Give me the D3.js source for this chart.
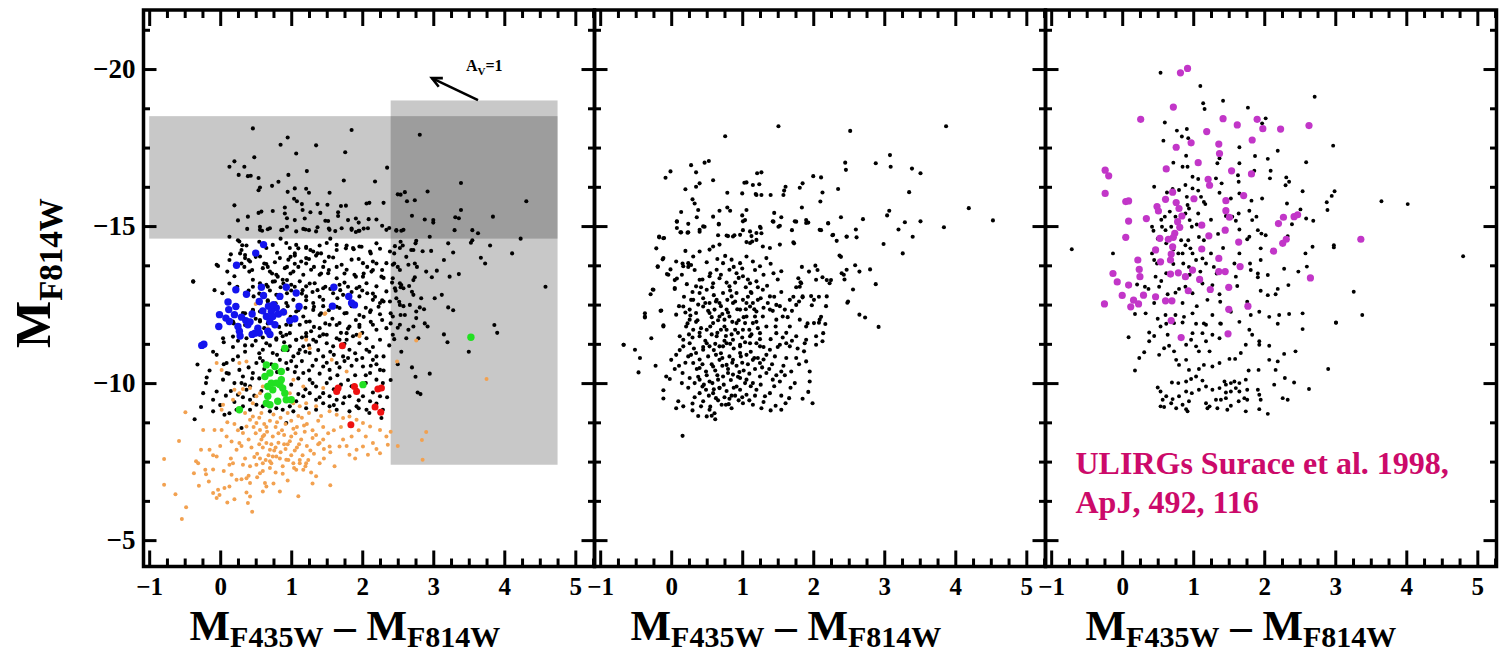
<!DOCTYPE html>
<html><head><meta charset="utf-8">
<script src="https://cdn.jsdelivr.net/npm/d3@7"></script>
<style>
html,body{margin:0;padding:0;background:#fff;}
svg{display:block;}
</style></head><body>
<svg id="chart" width="1501" height="655"></svg>
<script>
// Colour-magnitude diagrams: M_F814W against M_F435W - M_F814W
const xTicks = [-1, 0, 1, 2, 3, 4, 5];
const yTicks = [-20, -15, -10, -5];
const xDomain = [-1.08, 5.27];
const yDomain = [-21.88, -4.16];

// Panel 1: cluster sample (black), faint sources (orange) and highlighted subsets
const p1Black = [
[0.46,-18.11],[1.85,-18.06],[0.95,-17.82],[2.81,-17.91],[0.85,-17.59],[1.35,-17.57],[0.48,-17.19],[1.07,-17.31],[1.76,-17.35],[0.13,-16.89],[0.20,-17.06],[0.34,-16.89],[0.26,-16.63],[0.39,-16.59],[0.43,-16.60],[0.54,-16.53],[0.96,-16.63],[1.22,-16.75],[2.35,-16.86],[2.18,-16.42],[1.74,-16.45],[0.56,-16.23],[0.54,-16.14],[0.73,-16.28],[0.82,-16.41],[0.95,-16.09],[1.05,-16.20],[1.21,-16.19],[1.25,-16.06],[1.54,-16.06],[2.50,-16.01],[2.54,-16.00],[2.60,-16.08],[2.92,-16.10],[3.39,-16.37],[2.74,-15.82],[2.63,-15.79],[2.30,-15.74],[2.06,-15.72],[2.10,-15.74],[0.20,-15.66],[1.04,-15.87],[1.08,-15.79],[1.15,-15.70],[1.37,-15.70],[1.51,-15.68],[1.70,-15.64],[1.77,-15.65],[0.91,-15.59],[1.16,-15.51],[1.27,-15.44],[1.41,-15.42],[1.66,-15.44],[1.66,-15.32],[1.91,-15.24],[2.09,-15.22],[2.20,-15.21],[4.31,-15.79],[3.39,-15.51],[3.31,-15.28],[3.36,-15.25],[2.88,-15.21],[3.00,-15.19],[3.00,-15.11],[2.70,-15.33],[3.84,-15.30],[2.28,-15.01],[2.38,-14.94],[2.48,-14.87],[2.55,-14.85],[0.25,-15.18],[0.39,-15.30],[0.54,-15.42],[0.58,-15.46],[0.74,-15.48],[0.91,-15.40],[0.94,-15.25],[1.05,-15.19],[1.19,-15.24],[1.48,-15.17],[1.52,-15.16],[1.80,-15.19],[1.95,-15.11],[2.02,-14.92],[1.85,-14.92],[1.91,-14.81],[1.95,-14.85],[0.94,-14.98],[0.86,-14.87],[0.67,-14.90],[0.59,-14.85],[0.56,-14.98],[1.20,-14.89],[1.25,-14.87],[1.37,-14.96],[1.53,-14.92],[1.62,-14.84],[0.13,-14.66],[4.23,-14.60],[3.55,-14.87],[3.63,-14.77],[2.95,-14.66],[3.30,-14.87],[3.55,-14.55],[3.53,-14.47],[3.80,-14.38],[4.11,-14.13],[3.73,-13.81],[3.67,-13.99],[3.21,-14.45],[3.28,-14.16],[3.15,-13.92],[2.97,-14.21],[2.85,-14.20],[2.75,-14.45],[2.69,-14.24],[2.62,-14.02],[2.57,-14.38],[2.54,-14.50],[2.46,-14.36],[2.45,-14.13],[2.74,-13.81],[2.77,-13.70],[2.45,-13.81],[2.50,-13.70],[2.53,-13.60],[2.90,-13.55],[3.05,-13.58],[3.23,-13.39],[3.36,-13.47],[2.98,-13.37],[2.74,-13.37],[2.72,-13.28],[2.55,-13.12],[2.54,-13.05],[2.42,-13.20],[2.47,-12.94],[2.66,-13.09],[2.70,-12.91],[2.48,-12.70],[2.52,-12.59],[2.58,-12.45],[2.54,-12.17],[2.40,-12.22],[2.83,-12.70],[2.81,-12.41],[2.87,-12.35],[3.02,-12.70],[3.12,-12.81],[3.21,-12.41],[3.28,-12.32],[4.58,-13.07],[2.88,-11.90],[3.86,-11.85],[2.40,-11.90],[2.50,-11.76],
[-0.38,-13.23],[-0.03,-13.73],[-0.08,-12.96],[0.13,-13.92],[0.25,-14.55],[0.31,-14.39],[0.28,-14.13],[0.35,-14.08],[0.30,-13.81],[0.34,-13.70],[0.40,-13.92],[0.50,-14.02],[0.62,-13.81],[0.67,-13.70],[0.73,-13.49],[0.74,-13.23],[0.81,-13.39],[0.89,-13.17],[0.94,-13.70],[0.99,-14.02],[1.05,-14.13],[1.10,-14.29],[1.21,-14.34],[1.27,-14.24],[1.37,-14.13],[1.42,-14.13],[1.53,-14.02],[1.64,-14.24],[1.77,-14.29],[1.88,-14.26],[1.99,-14.34],[2.12,-14.13],[2.20,-13.81],[2.28,-13.60],[2.07,-13.70],[2.02,-13.49],[1.91,-13.39],[1.75,-13.49],[1.64,-13.70],[1.53,-13.60],[1.42,-13.49],[1.32,-13.70],[1.21,-13.81],[1.10,-13.70],[0.99,-13.49],[0.94,-13.28],[1.05,-13.07],[1.16,-12.96],[1.26,-13.17],[1.37,-12.96],[1.48,-13.07],[1.59,-12.86],[1.69,-12.96],[1.80,-13.07],[1.96,-13.07],[2.07,-12.86],[2.18,-12.75],[2.28,-12.64],[2.23,-12.43],[2.12,-12.32],[2.02,-12.11],[1.91,-12.01],[1.75,-12.22],[1.64,-12.43],[1.53,-12.32],[1.42,-12.22],[1.32,-12.43],[1.21,-12.64],[1.10,-12.32],[0.99,-12.11],[0.89,-12.32],[0.78,-12.54],[0.67,-12.64],[0.56,-12.54],[0.46,-12.32],[0.35,-12.22],[0.24,-12.43],[0.13,-12.32],[0.08,-12.11],[0.19,-11.90],[0.35,-11.85],[0.56,-12.01],[0.67,-11.90],[0.83,-11.79],[0.99,-11.85],[1.21,-11.95],[1.32,-11.79],[1.48,-11.90],[1.64,-11.85],[1.80,-11.74],[1.96,-11.79],[2.12,-11.95],[2.28,-12.01],[0.03,-12.86],[0.13,-13.17],[0.24,-13.07],[0.35,-12.86],[0.46,-13.07],[0.67,-13.07],[0.81,-12.80],[0.94,-12.86],
[0.38,-14.91],[0.56,-14.88],[0.70,-14.93],[0.88,-14.88],[1.07,-14.83],[1.17,-14.91],[1.35,-14.83],[1.54,-14.88],[1.71,-14.93],[1.85,-14.88],[1.96,-14.85],[2.08,-14.93],[2.34,-14.88],[2.48,-14.85],[2.58,-14.88],[0.27,-14.51],[0.37,-14.38],[0.30,-14.24],[0.65,-14.30],[0.74,-14.40],[0.93,-14.46],[0.98,-14.30],[1.07,-14.40],[1.21,-14.30],[1.31,-14.19],[1.40,-14.38],[1.50,-14.46],[1.64,-14.40],[1.78,-14.38],[1.87,-14.30],[1.96,-14.35],[2.11,-14.19],[2.25,-14.28],[2.39,-14.19],[2.53,-14.30],[2.72,-14.24],[2.76,-14.53],[0.35,-13.98],[0.42,-13.87],[0.56,-14.03],[0.65,-13.79],[0.77,-13.85],[0.84,-13.98],[0.96,-13.93],[1.05,-14.06],[1.14,-13.87],[1.21,-13.98],[1.35,-14.06],[1.47,-13.87],[1.59,-14.00],[1.71,-13.77],[1.85,-13.93],[2.01,-13.82],[2.15,-13.87],[2.34,-13.82],[2.43,-13.77],[2.65,-13.77],[-0.38,-13.24],[0.41,-13.55],[0.60,-13.66],[0.70,-13.55],[0.79,-13.45],[0.91,-13.66],[1.03,-13.55],[1.17,-13.45],[1.28,-13.61],[1.40,-13.45],[1.52,-13.50],[1.64,-13.34],[1.78,-13.61],[1.89,-13.45],[2.01,-13.39],[2.13,-13.55],[2.27,-13.39],[2.43,-13.34],[2.53,-13.18],[-0.05,-13.77],[0.46,-13.29],[0.56,-13.18],[0.65,-13.13],[0.77,-13.24],[0.88,-13.29],[1.00,-13.13],[1.12,-13.24],[1.21,-13.08],[1.33,-13.18],[1.45,-13.02],[1.68,-13.13],[1.92,-13.02],[2.06,-13.18],[2.20,-13.08],[2.34,-12.92],[2.46,-13.02],[2.58,-13.02],[2.72,-12.81],[0.47,-12.76],[0.67,-12.60],[0.79,-12.81],[0.93,-12.55],[1.03,-12.65],[1.21,-12.76],[1.31,-12.55],[1.45,-12.65],[1.73,-12.81],[1.96,-12.76],[2.15,-12.65],[2.25,-12.55],[2.39,-12.60],[2.53,-12.49],[2.67,-12.49],[2.76,-12.28],[0.32,-12.23],[0.46,-12.33],[0.56,-12.28],[0.74,-12.17],[1.07,-12.28],[1.17,-12.12],[1.31,-12.33],[1.40,-12.17],[1.68,-12.39],[1.78,-12.23],[1.96,-12.17],[2.11,-12.26],[2.25,-12.19],[2.43,-12.12],[2.60,-12.17],[2.76,-12.07],[0.18,-11.96],[0.37,-11.86],[0.56,-11.96],[0.93,-11.86],[1.12,-11.86],[1.26,-11.96],[1.40,-11.75],[1.54,-11.86],[1.68,-11.91],[1.82,-11.80],[1.96,-11.86],[2.15,-11.86],[2.34,-11.75],[2.53,-11.86],[2.72,-11.80],[0.04,-11.43],[0.18,-11.48],[0.37,-11.43],[0.56,-11.54],[0.79,-11.43],[0.93,-11.54],[1.07,-11.38],[1.21,-11.48],[1.35,-11.32],[1.50,-11.54],[1.64,-11.43],[1.78,-11.38],[1.92,-11.54],[2.06,-11.43],[2.25,-11.38],[2.43,-11.54],[2.62,-11.43],[2.79,-11.43],
[-0.32,-10.59],[-0.19,-10.18],[-0.24,-9.68],[-0.27,-9.24],[-0.36,-8.85],[-0.10,-9.47],[-0.05,-9.73],[0.04,-10.11],[0.09,-10.32],[0.09,-10.64],[0.18,-10.74],[0.20,-10.00],[0.25,-9.63],[0.27,-10.42],[0.32,-10.21],[0.35,-9.95],[0.37,-9.79],[0.42,-9.47],[0.46,-10.32],[0.51,-10.64],[0.56,-10.80],[0.60,-11.06],[0.65,-11.27],[0.70,-11.49],[0.79,-11.38],[0.88,-11.49],[0.98,-11.59],[1.07,-11.38],[1.17,-11.17],[1.26,-10.96],[1.35,-10.74],[1.45,-10.53],[1.54,-10.42],[1.64,-10.64],[1.73,-10.85],[1.82,-11.06],[1.92,-10.74],[2.01,-10.53],[2.11,-10.32],[2.20,-10.11],[2.29,-10.00],[2.25,-10.42],[2.15,-10.74],[2.06,-11.06],[1.96,-11.27],[1.87,-11.49],[1.78,-11.59],[1.68,-11.38],[1.59,-11.17],[1.50,-11.27],[1.40,-11.49],[1.31,-11.38],[1.21,-11.59],[1.12,-11.06],[1.03,-10.85],[0.93,-10.64],[0.84,-10.74],[0.74,-10.96],[0.88,-11.06],[0.98,-11.17],[1.07,-10.53],[1.17,-10.32],[1.26,-10.11],[1.35,-9.89],[1.45,-9.68],[1.54,-9.58],[1.64,-9.47],[1.73,-9.36],[1.82,-9.58],[1.92,-9.79],[2.01,-9.58],[2.11,-9.42],[2.25,-9.58],[2.29,-9.15],[2.27,-8.89],[2.06,-9.15],[1.92,-9.26],[1.82,-9.10],[1.64,-9.15],[1.54,-9.26],[1.45,-9.36],[1.35,-9.47],[1.26,-9.68],[1.17,-9.58],[1.07,-9.42],[0.98,-9.26],[0.88,-9.15],[0.79,-9.20],[0.70,-9.10],[0.60,-9.26],[0.51,-9.31],[0.42,-9.15],[0.32,-9.26],[0.23,-9.15],[0.13,-9.04],[0.06,-8.99],[0.30,-8.57],[0.93,-8.73],[1.03,-9.10],[1.21,-9.20],[1.35,-9.15],
[2.45,-11.40],[2.55,-11.00],[2.50,-10.60],[2.70,-10.50],[2.75,-10.20],[2.95,-10.30],[2.78,-9.70],[2.82,-9.65],[3.20,-11.30],[3.50,-11.00],[2.65,-11.70],[2.92,-11.80],[3.90,-11.60],[3.15,-11.55],[2.40,-10.10],
[0.45,-11.20],[0.55,-10.95],[0.62,-10.45],[0.72,-10.60],[0.80,-10.90],[0.90,-11.30],[1.00,-10.70],[1.10,-10.95],[1.15,-10.70],[1.20,-11.00],[1.30,-10.55],[1.38,-11.05],[1.45,-10.85],[1.50,-10.65],[1.60,-10.90],[1.68,-10.50],[1.75,-10.70],[1.85,-10.55],[1.90,-10.95],[2.00,-10.80],[2.05,-10.25],[2.12,-10.55],[2.20,-10.85],[2.30,-10.40],[1.90,-10.25],[1.80,-10.10],[1.70,-9.95],[1.55,-10.15],[1.40,-10.30],[1.30,-10.00],[1.20,-9.80],[1.10,-10.15],[1.00,-9.95],[0.95,-10.45],[0.55,-10.15],[0.48,-9.60],[0.42,-9.90],[0.32,-9.55],[0.20,-9.40],[0.15,-9.75],[0.08,-9.60],[0.12,-10.30],[0.25,-10.85],[0.35,-11.00],[0.18,-11.15],[0.05,-11.30],[-0.05,-10.90],[-0.15,-10.40],[-0.10,-9.10],[0.00,-9.30],[1.60,-9.30],[1.75,-9.55],[1.95,-9.20],[2.10,-9.05],[2.15,-9.70],[2.35,-9.55],[2.30,-10.85],[2.38,-11.20],[1.15,-11.45],[1.45,-11.55],[1.75,-11.25],[2.00,-11.60],[2.15,-11.15],[0.85,-11.60],[0.60,-11.45],
[0.40,-12.95],[0.55,-12.85],[0.70,-12.95],[0.85,-13.05],[1.00,-12.95],[1.15,-12.85],[1.30,-12.90],[1.40,-12.75],[1.55,-13.00],[1.65,-12.70],[1.85,-12.90],[2.00,-12.95],[2.15,-12.85],[0.50,-12.05],[0.62,-11.75],[0.95,-12.45],[1.05,-12.00],[1.20,-12.40],[1.28,-11.65],[1.45,-12.45],[1.58,-12.05],[1.70,-11.60],[1.85,-12.45],[2.05,-12.40],[2.20,-11.70],[0.35,-11.20],[0.50,-11.35],[0.70,-11.20],[0.95,-11.05],[1.25,-11.20],[1.55,-11.00],[1.80,-10.80],[2.10,-11.00],[0.40,-10.50],[0.60,-10.70],[0.80,-10.35],[1.05,-10.35],[1.25,-10.40],[1.50,-10.00],[1.65,-10.25],[1.85,-9.90],[2.05,-10.00],[2.20,-9.35],[0.30,-10.00],[0.45,-10.15],[0.58,-9.75],[1.10,-9.65],[1.40,-9.55],[1.60,-9.80],[1.95,-9.45],[2.20,-10.60],[0.25,-11.35],[0.05,-10.60],[-0.10,-11.00],[-0.20,-10.00],[2.30,-12.60],[2.30,-13.35],[2.15,-13.60],[1.95,-13.95],[1.75,-13.20],[1.45,-13.70],[1.25,-13.95],[1.05,-13.80],[0.80,-14.15],[0.55,-14.50],[0.45,-13.60],[0.20,-13.40],[0.10,-13.55],[2.20,-14.45],[1.55,-14.60],[0.85,-14.60],[0.15,-14.10]
];

const p1Orange = [
[-0.49,-9.07],[-0.58,-8.16],[-0.79,-7.58],[-0.79,-6.76],[-0.63,-6.46],[-0.48,-6.05],[-0.54,-5.67],[-0.31,-7.45],[-0.30,-6.73],[-0.37,-7.13],[-0.21,-7.24],[-0.16,-6.87],[-0.10,-6.50],[-0.05,-6.34],[-0.01,-6.44],[-0.03,-6.60],[0.06,-6.66],[0.13,-6.71],[0.16,-7.08],[0.23,-6.92],[0.30,-6.94],[0.37,-6.97],[0.42,-6.82],[0.37,-6.52],[0.42,-6.39],[0.39,-6.18],[0.56,-7.13],[0.63,-6.82],[0.65,-6.71],[0.84,-6.55],[0.88,-7.11],[1.07,-7.24],[1.17,-7.24],[1.35,-7.03],[1.61,-7.35],[1.82,-7.72],[2.01,-7.98],[2.25,-7.77],[2.36,-8.04],[2.08,-7.72],[1.92,-7.88],[1.73,-8.20],[1.68,-7.98],[1.54,-7.98],[1.45,-8.20],[1.40,-8.09],[1.40,-7.45],[1.21,-7.45],[1.03,-7.45],[0.93,-7.56],[0.79,-7.66],[0.70,-7.51],[0.60,-7.45],[0.51,-7.40],[0.42,-7.35],[0.32,-7.40],[0.18,-7.45],[0.13,-7.40],[-0.05,-7.66],[-0.15,-7.88],[-0.27,-7.88],[-0.34,-7.51],[-0.24,-8.51],[-0.08,-8.51],[0.02,-8.51],[0.09,-8.30],[0.16,-8.14],[0.23,-7.88],[0.27,-8.09],[0.32,-8.41],[0.37,-8.62],[0.42,-8.83],[0.46,-8.94],[0.51,-8.73],[0.56,-8.51],[0.60,-8.30],[0.65,-8.09],[0.70,-7.88],[0.74,-7.66],[0.02,-9.15],[0.04,-9.31],[0.18,-9.47],[0.27,-9.68],[0.20,-9.79],[0.32,-9.81],[0.42,-9.84],[0.46,-9.36],[0.51,-9.58],[0.56,-9.68],[0.60,-9.89],[0.98,-9.68],[1.03,-9.36],[1.12,-9.26],[1.21,-9.36],[1.35,-9.26],[1.54,-9.10],[1.64,-8.99],[1.73,-8.89],[1.82,-8.94],[1.92,-8.83],[2.01,-8.73],[2.11,-8.62],[2.25,-8.51],[2.34,-8.30],[2.15,-8.09],[-0.05,-10.64],[0.02,-10.42],[0.27,-10.64],[0.37,-10.69],[1.21,-11.38],[1.26,-11.11],[1.03,-10.11],[1.17,-9.89],[1.45,-9.84],[1.78,-10.37],[1.96,-11.49],[1.57,-10.74],
[0.55,-8.90],[0.62,-8.70],[0.70,-8.80],[0.78,-8.60],[0.85,-8.90],[0.92,-8.70],[1.00,-8.80],[1.08,-8.60],[1.15,-8.90],[1.22,-8.70],[1.30,-8.50],[1.38,-8.80],[1.45,-8.60],[1.52,-8.40],[0.50,-8.40],[0.58,-8.20],[0.66,-8.45],[0.74,-8.30],[0.82,-8.10],[0.90,-8.35],[0.98,-8.15],[1.06,-8.40],[1.14,-8.20],[1.22,-8.00],[1.30,-8.25],[1.38,-8.05],[1.46,-7.90],[0.44,-7.95],[0.52,-7.75],[0.60,-7.95],[0.68,-7.70],[0.76,-7.85],[0.84,-7.60],[0.92,-7.90],[1.00,-7.70],[1.08,-7.95],[1.16,-7.70],[1.24,-7.55],[1.32,-7.75],[0.40,-8.20],[0.47,-8.60],[0.87,-8.50],[0.95,-8.05],[1.03,-8.55],[1.11,-8.05],[1.19,-8.45],[1.27,-7.85],[0.72,-8.05],[0.80,-8.75],[0.64,-7.55],[0.56,-7.60],[0.48,-7.65],[0.88,-7.35],[0.96,-7.55],[1.04,-7.30],[1.12,-7.55],[1.20,-7.35],[1.28,-7.15],[0.70,-7.30],[0.60,-7.20],[0.78,-7.15],[1.46,-7.60],[1.55,-7.80],[1.60,-8.50],[1.70,-8.60],[1.85,-8.30],[1.95,-8.50],[2.05,-8.30],[1.78,-8.00],[1.90,-7.60],[2.20,-7.90],[2.40,-8.45],[2.50,-8.00],[0.30,-8.00],[0.25,-8.50],[0.20,-8.70],[0.10,-8.75],[0.00,-8.00],[-0.10,-7.70],[0.15,-7.60],[0.05,-7.20],[-0.20,-7.10],[0.35,-7.60],[0.95,-6.90],[1.30,-6.80],[0.60,-6.55],[0.75,-6.80],[0.20,-6.30],[0.45,-5.90],[0.10,-6.20],[-0.10,-7.25],[1.55,-6.75],[1.10,-6.40],
[0.58,-9.05],[0.75,-9.00],[0.95,-9.05],[1.10,-8.95],[1.25,-9.05],[1.42,-8.95],[0.35,-9.05],[0.65,-8.60],[0.82,-8.40],[1.00,-8.30],[1.18,-8.65],[1.35,-8.35],[0.55,-8.05],[0.78,-7.95],[1.05,-7.85],[0.85,-7.80],[0.62,-8.35],[0.90,-8.05],[1.12,-7.45],[0.72,-7.45],[0.40,-7.05],[0.52,-7.00],
[2.76,-11.36],[2.49,-10.69],[3.75,-10.13],[2.90,-8.44],[2.84,-8.19],[2.85,-7.56],
[0.13,-12.62],[0.50,-12.52],[0.92,-12.23],[0.11,-11.96],[1.47,-12.20],[1.97,-11.56],[0.67,-11.75],[1.48,-12.22]
];

const p1Blue = [
[0.61,-14.41],[0.50,-14.14],[0.23,-13.75],[0.22,-12.97],[0.37,-12.83],[0.58,-13.05],[0.61,-12.79],[0.84,-12.76],[0.93,-13.05],[1.07,-12.87],[1.11,-12.44],[1.05,-12.05],[0.98,-11.99],[0.89,-12.26],[0.79,-12.39],[0.72,-12.28],[0.65,-12.12],[0.70,-11.96],[0.74,-12.12],[0.77,-11.86],[0.67,-11.65],[0.53,-11.75],[0.49,-11.59],[0.39,-11.86],[0.36,-11.99],[0.27,-11.65],[0.25,-11.80],[0.11,-12.58],[0.12,-12.34],[0.22,-12.44],[0.20,-12.18],[-0.01,-12.18],[-0.02,-11.80],[0.08,-12.07],[0.13,-11.96],[1.60,-13.05],[1.58,-12.45],[1.81,-12.76],[1.85,-12.55],[1.89,-12.49],[-0.23,-11.24],[-0.26,-11.20],[0.68,-12.45],[0.75,-12.50],[0.82,-12.20],[0.60,-12.30],[0.55,-12.60],[0.45,-12.20],[0.42,-11.95],[0.30,-12.10],[0.45,-11.55],[0.55,-11.60],[0.70,-11.55],[0.28,-11.50]
];

const p1Green = [
[0.91,-11.11],[0.65,-10.58],[0.77,-10.53],[0.70,-10.32],[0.86,-10.37],[0.63,-10.21],[0.72,-10.00],[0.79,-10.00],[0.84,-9.95],[0.88,-9.84],[0.74,-9.79],[0.67,-9.58],[0.65,-9.36],[0.70,-9.31],[0.91,-9.68],[0.93,-9.47],[0.81,-9.42],[1.00,-9.47],[2.01,-9.95],[0.27,-9.15],[0.67,-9.89],[0.86,-10.11],[3.53,-11.46]
];

const p1Red = [
[1.72,-11.19],[1.66,-9.84],[1.64,-9.73],[1.89,-9.89],[1.92,-9.73],[2.22,-9.81],[2.27,-9.84],[2.18,-9.24],[2.26,-9.07],[1.84,-8.67]
];

// Shaded selection regions and the A_V = 1 reddening vector (panel 1)
const shadeX0 = [-1.00, 2.40];
const shadeX1 = [4.75, 4.75];
const shadeY0 = [-18.50, -19.00];
const shadeY1 = [-14.60, -7.40];
const avTail = [3.63, -19.01];
const avHead = [2.98, -19.71];

// Panel 2: comparison sample
const p2Black = [
[1.51,-18.18],[0.76,-17.86],[2.52,-18.03],[3.87,-18.18],[0.28,-16.94],[0.35,-16.71],[0.47,-17.02],[0.53,-17.07],[-0.01,-16.74],[-0.08,-16.54],[0.59,-16.46],[0.40,-16.36],[0.35,-16.25],[0.20,-16.17],[1.03,-16.38],[1.06,-16.39],[1.15,-16.31],[1.21,-16.68],[1.27,-16.71],[1.24,-16.33],[0.79,-16.06],[1.00,-16.04],[1.19,-16.02],[1.27,-15.99],[1.40,-15.99],[1.59,-16.13],[1.61,-16.25],[1.58,-15.99],[1.81,-16.22],[1.85,-16.36],[2.00,-16.59],[2.11,-16.55],[2.13,-16.07],[2.35,-16.18],[2.45,-17.02],[2.46,-16.79],[2.88,-17.00],[3.08,-17.26],[3.09,-16.89],[3.39,-16.83],[3.51,-16.68],[3.35,-16.08],[4.19,-15.57],[4.53,-15.18],[3.84,-14.96],[0.30,-15.85],[0.33,-15.72],[0.14,-15.45],[0.38,-15.51],[0.36,-15.28],[0.59,-15.30],[0.68,-15.49],[0.79,-15.59],[0.83,-15.49],[0.08,-15.14],[0.13,-14.80],[0.23,-14.79],[0.47,-14.98],[0.40,-14.82],[0.67,-15.05],[0.66,-14.71],[0.80,-14.68],[0.89,-14.71],[1.01,-14.87],[1.04,-15.19],[1.00,-15.34],[1.06,-15.51],[1.20,-15.99],[1.25,-14.98],[1.27,-14.77],[1.13,-14.68],[1.14,-14.51],[1.06,-14.49],[1.44,-15.14],[1.51,-14.98],[1.45,-15.42],[1.55,-15.28],[1.70,-14.87],[1.73,-14.45],[1.76,-15.14],[1.84,-15.59],[1.90,-15.19],[1.93,-15.11],[2.10,-15.78],[2.11,-14.87],[2.21,-15.08],[2.27,-14.71],[2.33,-14.53],[2.39,-15.28],[2.47,-14.66],[2.39,-14.02],[2.60,-14.89],[2.61,-14.64],[2.70,-15.22],[2.59,-13.75],[2.65,-13.55],[2.80,-13.62],[2.88,-13.15],[2.99,-14.43],[3.04,-15.34],[3.07,-15.49],[3.20,-14.89],[3.26,-14.13],[3.29,-15.12],[3.40,-14.66],[3.51,-15.15],[2.43,-13.45],[2.44,-13.30],[2.48,-12.56],[2.56,-12.98],[2.65,-12.18],[2.73,-12.09],[2.92,-11.79],[2.19,-13.28],[2.13,-13.37],[2.25,-13.28],[2.06,-13.60],[1.94,-13.55],[1.84,-13.70],[2.03,-13.74],[1.82,-13.21],[1.81,-13.07],[1.76,-13.05],[1.85,-12.73],[1.97,-12.77],[2.08,-12.75],[2.18,-12.45],[2.11,-12.11],[2.17,-11.88],[2.08,-11.92],[1.92,-11.90],[1.98,-12.48],
[-0.12,-13.94],[-0.19,-13.70],[-0.06,-13.47],[-0.01,-13.62],[0.08,-13.33],[0.05,-13.00],[-0.26,-12.98],[-0.29,-12.83],[-0.15,-12.30],[-0.37,-12.22],[-0.37,-12.09],[-0.21,-14.29],[-0.17,-14.64],[-0.11,-14.61],[0.08,-14.94],[0.20,-14.21],[0.24,-13.70],[0.28,-13.76],[0.16,-13.81],[0.05,-13.28],[0.11,-12.45],[0.07,-12.18],[-0.11,-11.84],
[0.08,-15.15],[0.24,-15.07],[0.14,-14.80],[0.24,-14.80],[0.40,-14.88],[0.45,-14.99],[0.67,-15.07],[1.01,-15.15],[1.11,-14.83],[1.20,-14.78],[1.26,-14.94],[1.43,-15.15],[1.53,-15.01],[1.74,-15.15],[1.90,-15.10],[2.21,-15.10],[2.09,-14.88],[2.28,-14.72],[2.47,-14.67],[2.37,-14.06],[1.72,-14.48],[1.53,-14.41],[1.39,-14.30],[1.29,-14.35],[1.20,-14.56],[1.11,-14.46],[0.97,-14.72],[0.87,-14.67],[0.78,-14.70],[0.68,-14.41],[0.59,-14.35],[0.54,-14.25],[0.40,-14.19],[0.31,-14.03],[0.24,-13.82],[0.17,-13.72],[0.07,-13.87],[-0.11,-13.98],[-0.17,-14.67],[-0.10,-14.62],[-0.19,-13.72],[-0.04,-13.45],[0.05,-13.03],[-0.25,-12.97],[-0.14,-12.31],[-0.37,-12.12],[-0.67,-11.22],[-0.28,-11.43],[-0.11,-11.80],[0.17,-12.44],[0.26,-12.02],[0.12,-11.49],[0.35,-13.08],[0.40,-13.29],[0.54,-13.40],[0.64,-13.61],[0.73,-13.82],[0.85,-13.93],[0.97,-13.82],[1.06,-14.03],[1.15,-13.87],[1.25,-13.72],[1.34,-13.98],[1.44,-13.50],[1.55,-13.56],[1.79,-13.34],[1.83,-13.18],[2.04,-13.29],[2.23,-13.18],[2.40,-13.50],[2.49,-12.60],[2.47,-13.61],[2.19,-12.76],[2.01,-12.65],[1.85,-12.76],[1.76,-12.49],[1.67,-12.65],[1.60,-12.34],[1.48,-12.49],[1.39,-12.76],[1.29,-12.97],[1.20,-13.24],[1.11,-13.18],[1.01,-13.40],[0.92,-13.50],[0.82,-13.61],[0.68,-13.34],[0.59,-13.18],[0.50,-12.97],[0.40,-12.87],[0.31,-12.65],[0.26,-12.34],[0.35,-12.23],[0.45,-12.44],[0.54,-12.55],[0.64,-12.65],[0.73,-12.87],[0.82,-13.08],[0.92,-12.87],[1.01,-12.65],[1.11,-12.44],[1.20,-12.28],[1.29,-12.12],[1.39,-12.34],[1.48,-12.02],[1.57,-12.12],[1.67,-11.80],[1.81,-12.02],[1.90,-11.80],[2.01,-11.91],[2.09,-12.02],[2.14,-11.59],[2.04,-11.49],[1.90,-11.38],[1.76,-11.49],[1.62,-11.27],[1.48,-11.59],[1.34,-11.80],[1.25,-11.59],[1.15,-11.91],[1.06,-12.12],[0.97,-12.34],[0.87,-12.55],[0.78,-12.34],[0.68,-12.12],[0.59,-11.91],[0.50,-11.70],[0.40,-11.49],[0.31,-11.70],[0.21,-11.80],[0.17,-11.38],[0.26,-11.27],[0.50,-11.27],[0.64,-11.49],[0.78,-11.70],[0.92,-11.91],[1.01,-11.70],[1.11,-11.49],[1.20,-11.27],[0.87,-11.38],[0.97,-11.17],[0.73,-11.17],[1.06,-12.55],[0.68,-12.55],[0.54,-12.23],[0.82,-12.12],[0.85,-12.76],[1.13,-12.87],[1.22,-12.65],[0.61,-12.34],[0.75,-12.02],[0.90,-11.70],[1.04,-11.91],[1.18,-12.12],
[0.16,-8.32],[0.50,-8.94],[0.57,-8.96],[0.07,-9.20],[0.17,-9.26],[0.30,-9.13],[0.42,-9.26],[0.54,-9.15],[0.77,-9.31],[0.81,-9.33],[1.40,-9.13],[1.47,-9.28],[1.55,-9.15],[1.61,-9.36],[1.66,-9.52],[1.99,-9.36],[1.93,-9.72],[1.95,-10.05],[1.95,-10.37],[1.90,-10.69],[1.87,-11.01],[-0.11,-9.77],[-0.11,-9.51],[-0.22,-10.55],[-0.46,-10.34],[-0.44,-10.80],[-0.51,-11.06],[-0.67,-11.22],[0.10,-9.42],[-0.07,-10.21],[-0.02,-10.13],[0.11,-10.55],[0.16,-10.32],[1.15,-9.31],[1.32,-9.58],[1.39,-9.68],[1.20,-9.79],[1.06,-9.63],[0.97,-9.79],[0.92,-9.89],[0.85,-9.60],[0.75,-9.55],[0.63,-9.52],[0.59,-9.68],[0.49,-9.79],[0.44,-9.89],[0.54,-10.05],[0.66,-10.11],[0.73,-10.21],[0.80,-10.32],[0.87,-10.27],[0.97,-10.16],[1.06,-10.11],[1.15,-10.00],[1.25,-10.21],[1.34,-10.32],[1.43,-10.11],[1.53,-10.05],[1.74,-10.00],[1.69,-10.37],[1.55,-10.37],[1.62,-10.80],[1.76,-10.80],[1.46,-10.85],[1.34,-10.90],[1.25,-10.64],[1.15,-10.74],[1.06,-10.90],[0.97,-10.96],[0.87,-10.74],[0.78,-10.58],[0.68,-10.74],[0.59,-10.53],[0.49,-10.37],[0.40,-10.48],[0.31,-10.64],[0.24,-10.85],[0.35,-10.96],[0.45,-11.06],[0.17,-11.17],[0.07,-10.90],[0.00,-10.74],[0.54,-11.17],[0.68,-11.17],[0.78,-11.27],[0.97,-11.22],[1.11,-11.27],[1.25,-11.17],[1.39,-11.06],[1.53,-11.22],[1.67,-11.17],[1.88,-11.27],[2.04,-11.22],[2.13,-11.33],[0.63,-10.90],[0.26,-10.16],[0.33,-10.00],[0.40,-10.11],[0.40,-9.68],[0.68,-9.84],[1.01,-9.36],[0.45,-9.42],[0.71,-9.31],[0.61,-9.04],
[0.30,-12.90],[0.38,-12.50],[0.45,-12.70],[0.52,-12.30],[0.60,-12.80],[0.66,-12.00],[0.70,-12.45],[0.75,-11.80],[0.80,-12.25],[0.85,-11.55],[0.90,-12.60],[0.95,-12.00],[1.00,-11.45],[1.05,-12.35],[1.10,-11.70],[1.15,-12.55],[1.20,-11.95],[1.25,-11.40],[1.30,-12.40],[0.35,-11.95],[0.40,-11.60],[0.45,-11.15],[0.55,-11.80],[0.60,-11.05],[0.65,-11.60],[0.70,-10.95],[0.75,-11.35],[0.82,-10.85],[0.88,-11.10],[0.92,-10.55],[0.98,-10.85],[1.02,-10.40],[1.08,-10.60],[1.12,-11.00],[1.18,-10.45],[1.22,-10.80],[1.28,-10.50],[0.50,-10.25],[0.58,-10.00],[0.62,-10.40],[0.68,-9.85],[0.72,-10.55],[0.78,-9.75],[0.84,-10.10],[0.90,-9.60],[0.96,-10.35],[1.00,-9.55],[1.04,-10.00],[1.10,-9.45],[0.40,-10.75],[0.32,-11.10],[0.25,-11.55],[0.20,-12.25],[0.28,-12.65],[0.42,-13.05],[0.55,-13.50],[0.65,-13.95],[0.78,-13.20],[0.88,-13.70],[0.95,-13.35],[1.05,-13.05],[1.12,-12.90],[1.18,-13.60],[1.35,-13.10],[1.45,-12.75],[1.55,-12.90],[1.62,-11.60],[1.70,-12.30],[1.80,-12.60],[1.50,-11.15],[1.42,-10.60],[1.60,-10.25],[1.68,-9.85],[1.80,-10.60],[1.85,-9.50],[1.78,-11.10],
[0.15,-13.45],[0.22,-13.15],[0.33,-13.60],[0.44,-13.30],[0.50,-13.85],[0.58,-13.05],[0.70,-13.45],[0.76,-14.05],[0.83,-12.95],[0.90,-13.20],[1.00,-13.65],[1.08,-13.30],[1.22,-13.05],[1.30,-13.45],[1.40,-13.80],[1.50,-13.30],[0.18,-12.75],[0.27,-12.15],[0.37,-12.00],[0.48,-12.55],[0.57,-12.10],[0.63,-12.60],[0.72,-12.20],[0.79,-12.65],[0.86,-11.95],[0.93,-12.35],[1.02,-12.10],[1.08,-12.75],[1.17,-12.35],[1.26,-12.70],[1.36,-12.55],[1.43,-12.30],[1.53,-12.45],[1.64,-12.10],[1.72,-12.75],[0.23,-11.90],[0.30,-11.45],[0.42,-11.75],[0.48,-11.35],[0.57,-11.55],[0.62,-11.25],[0.70,-11.70],[0.77,-11.50],[0.83,-11.25],[0.94,-11.60],[1.04,-11.30],[1.13,-11.55],[1.22,-11.75],[1.30,-11.15],[1.40,-11.40],[1.47,-11.80],[1.57,-11.45],[1.70,-11.35],[0.12,-11.05],[0.20,-10.65],[0.28,-10.90],[0.36,-10.45],[0.44,-10.60],[0.52,-10.85],[0.57,-10.60],[0.65,-10.25],[0.72,-10.80],[0.80,-10.45],[0.86,-10.65],[0.94,-10.20],[1.00,-10.65],[1.10,-10.30],[1.17,-10.80],[1.30,-10.75],[1.38,-10.45],[1.48,-10.25],[1.58,-10.55],[0.05,-10.45],[0.15,-10.00],[0.24,-9.85],[0.33,-9.55],[0.38,-10.20],[0.46,-9.95],[0.53,-9.60],[0.60,-9.80],[0.66,-9.45],[0.74,-9.95],[0.82,-9.50],[0.88,-9.85],[0.95,-9.45],[1.12,-9.90],[1.18,-9.60],[1.26,-9.95],[1.30,-9.40],[1.45,-9.90],[1.55,-9.60],[0.30,-9.35],[0.55,-9.25],[0.85,-9.20],[0.38,-8.95],[0.62,-8.85],[1.27,-9.20]
];

// Panel 3: comparison sample (black) and ULIRG clusters (magenta)
const p3Black = [
[0.54,-19.88],[1.10,-19.46],[2.71,-19.12],[1.42,-18.99],[1.14,-18.91],[1.16,-18.73],[1.77,-18.77],[1.97,-18.27],[2.02,-18.43],[0.60,-18.30],[0.77,-18.04],[0.91,-18.09],[0.84,-17.85],[0.93,-17.80],[0.58,-17.72],[1.65,-17.51],[2.19,-17.40],[2.97,-17.56],[0.90,-17.24],[1.87,-17.23],[2.05,-17.14],[2.59,-17.03],[0.72,-17.02],[0.85,-16.89],[0.92,-16.89],[1.65,-17.00],[1.34,-17.00],[1.37,-17.16],[2.09,-16.76],[1.86,-16.76],[2.08,-16.52],[0.99,-16.57],[1.07,-16.50],[1.32,-16.52],[1.40,-16.36],[1.63,-16.62],[1.64,-16.41],[2.35,-16.41],[2.31,-16.55],[2.30,-16.30],[2.54,-16.11],[0.45,-16.25],[0.63,-16.07],[0.71,-16.18],[0.80,-16.15],[0.89,-16.31],[0.99,-16.20],[1.07,-16.13],[1.11,-15.93],[1.15,-15.77],[1.17,-15.70],[1.37,-16.06],[1.53,-15.88],[1.65,-16.04],[1.82,-15.81],[1.97,-15.88],[2.32,-15.72],[2.51,-15.53],[2.59,-15.24],[2.69,-15.17],[2.88,-15.76],[2.89,-15.51],[2.95,-15.96],[2.99,-16.11],[3.65,-15.79],[4.02,-15.70],[0.91,-15.93],[0.92,-15.67],[0.94,-15.56],[0.89,-15.40],[0.95,-15.19],[0.67,-15.46],[0.60,-15.30],[0.69,-14.98],[0.61,-14.87],[0.56,-14.98],[0.42,-14.98],[0.44,-14.85],[0.98,-14.98],[1.07,-15.40],[1.64,-15.40],[1.79,-15.49],[1.83,-15.19],[1.89,-15.30],[1.91,-14.87],[1.79,-14.66],[1.76,-14.58],[1.55,-15.30],[1.60,-15.17],[1.46,-15.32],[1.65,-14.89],[2.02,-14.71],[1.95,-14.29],[1.96,-14.76],[2.33,-14.68],[2.39,-15.06],[2.68,-14.34],[2.58,-14.13],[2.98,-14.39],[2.98,-14.32],[4.80,-14.04],[-0.71,-14.26],[-0.13,-14.13],[0.45,-13.92],[0.42,-14.13],[0.49,-13.81],[0.83,-14.55],[0.89,-14.39],[0.93,-14.55],[0.96,-14.29],[0.85,-14.13],[0.99,-14.13],[0.79,-14.13],[0.72,-13.79],[0.86,-13.81],[0.94,-13.70],[1.04,-13.92],[1.13,-13.97],[1.18,-13.81],[1.25,-14.13],[1.29,-13.70],[1.33,-13.49],[1.58,-13.81],[1.60,-13.39],[1.65,-14.13],[1.80,-13.81],[1.81,-13.60],[1.91,-13.49],[1.95,-13.92],[2.05,-13.44],[2.28,-13.64],[2.48,-13.55],[2.60,-13.71],[2.34,-13.12],[2.19,-13.00],[2.16,-12.83],[2.05,-12.80],[1.95,-12.94],[1.91,-13.37],[1.62,-13.09],[1.37,-12.83],[1.38,-12.59],[1.27,-13.12],[1.13,-13.17],[0.99,-12.86],[0.89,-13.07],[0.80,-13.00],[0.75,-12.88],[0.64,-12.83],[0.52,-13.07],[0.47,-13.39],[0.37,-13.00],[0.32,-13.07],[0.21,-13.14],[0.18,-12.20],[0.33,-12.22],[0.61,-12.17],[0.75,-12.17],[0.87,-12.11],[0.99,-12.22],[1.15,-11.90],[1.27,-12.17],[1.38,-11.90],[1.53,-12.27],[1.65,-11.95],[1.76,-12.59],[1.81,-12.17],[1.93,-12.27],[2.07,-12.11],[2.21,-12.17],[2.35,-12.20],[2.54,-12.22],[3.01,-11.92],[3.26,-12.91],[3.38,-12.17],
[0.09,-11.46],[0.38,-11.33],[0.31,-10.98],[0.24,-10.80],[0.18,-10.40],[0.52,-10.90],[0.59,-11.11],[0.66,-11.19],[0.73,-11.01],[0.76,-10.74],[0.64,-11.54],[0.62,-11.89],[0.73,-11.91],[0.85,-11.93],[0.90,-11.22],[0.97,-11.38],[1.04,-11.89],[0.99,-11.59],[1.13,-11.59],[1.18,-11.86],[1.18,-11.33],[1.23,-11.01],[1.08,-11.01],[1.04,-11.17],[0.90,-10.74],[0.80,-10.58],[0.94,-10.42],[1.15,-10.58],[1.08,-10.45],[1.04,-10.21],[0.97,-10.13],[0.90,-10.05],[0.70,-10.02],[0.79,-10.00],[1.13,-10.08],[1.18,-9.89],[1.08,-9.79],[0.98,-9.68],[0.90,-9.73],[0.80,-9.58],[0.71,-9.49],[0.62,-9.58],[0.54,-9.73],[0.50,-9.86],[0.57,-9.47],[0.59,-9.24],[0.69,-9.36],[0.76,-9.20],[0.85,-9.31],[0.94,-9.42],[0.92,-9.10],[1.18,-9.36],[1.23,-9.26],[1.32,-9.47],[1.34,-9.20],[1.27,-9.79],[1.37,-9.84],[1.44,-10.05],[1.46,-9.95],[1.53,-10.00],[1.58,-10.05],[1.65,-10.00],[1.74,-10.11],[1.60,-9.84],[1.53,-9.73],[1.46,-9.70],[1.65,-9.73],[1.76,-9.79],[1.72,-9.52],[1.76,-9.47],[1.64,-9.42],[1.46,-9.52],[1.39,-9.47],[1.91,-9.79],[1.93,-9.63],[1.95,-9.47],[2.05,-9.02],[2.26,-9.52],[2.33,-9.47],[2.14,-9.95],[2.29,-10.16],[2.42,-10.02],[2.63,-9.81],[2.90,-10.45],[2.16,-10.42],[2.19,-10.69],[2.07,-10.74],[1.92,-10.42],[1.78,-10.40],[1.59,-10.77],[1.51,-10.77],[1.37,-10.64],[1.27,-10.53],[1.67,-10.96],[1.74,-11.22],[1.93,-11.22],[2.07,-11.19],[1.83,-11.54],[1.93,-11.33],[2.28,-10.93],[2.44,-11.01],[2.54,-11.72],[2.19,-11.89],[3.01,-11.93],[1.79,-11.70],[1.39,-11.89],[1.37,-11.43],[1.27,-11.54],[0.38,-11.61],[0.45,-11.50],[0.54,-11.80],[0.54,-9.26],[0.90,-9.17],[1.20,-9.20],[1.48,-9.15],[1.53,-9.28],[1.74,-9.10],[1.93,-9.17],
[0.55,-15.20],[0.75,-15.30],[1.05,-15.05],[1.25,-15.20],[1.35,-14.75],[1.15,-14.55],[0.62,-14.45],[0.72,-14.25],[1.08,-14.65],[0.50,-14.60],[1.42,-14.30],[0.95,-13.45],[1.10,-13.55],[0.62,-13.50],[0.55,-13.25],[1.20,-12.65],[0.85,-12.55],[0.45,-12.55],[1.05,-12.45],[0.50,-12.05]
];

const p3Ulirg = [
[0.92,-20.02],[0.82,-19.88],[0.72,-18.79],[0.26,-18.40],[1.42,-18.42],[1.62,-18.22],[1.90,-18.40],[1.98,-18.10],[2.23,-18.09],[2.63,-18.20],[1.19,-18.01],[1.83,-17.74],[0.76,-17.51],[0.97,-17.65],[1.36,-17.61],[1.37,-17.31],[1.07,-17.02],[0.62,-16.82],[1.54,-16.76],[1.82,-16.66],[1.21,-16.49],[1.23,-16.30],[-0.24,-16.78],[-0.19,-16.60],[-0.24,-16.04],[0.71,-16.08],[0.61,-15.85],[1.01,-15.87],[1.71,-15.97],[1.46,-15.81],[0.05,-15.78],[0.09,-15.80],[0.49,-15.62],[0.51,-15.48],[0.76,-15.75],[0.80,-15.56],[0.84,-15.32],[0.78,-15.14],[0.74,-14.77],[0.72,-14.64],[0.34,-15.24],[0.09,-15.16],[1.46,-15.49],[1.51,-15.28],[1.12,-15.03],[0.81,-14.96],[1.45,-14.87],[1.22,-14.69],[0.05,-14.64],[0.53,-14.61],[0.65,-14.58],[1.64,-14.49],[2.20,-15.08],[2.27,-15.28],[2.42,-15.30],[2.47,-15.36],[2.31,-14.58],[2.26,-14.45],[2.13,-14.20],[3.36,-14.58],[0.47,-14.24],[0.71,-14.34],[0.69,-14.11],[1.12,-14.27],[1.36,-13.97],[0.22,-13.92],[0.24,-13.62],[0.25,-13.39],[0.54,-13.86],[0.68,-13.92],[0.68,-13.47],[0.79,-13.51],[0.89,-13.39],[0.99,-13.60],[1.09,-13.30],[1.36,-13.55],[1.45,-13.55],[1.66,-13.71],[1.50,-13.05],[1.24,-12.98],[0.93,-12.94],[-0.13,-13.49],[-0.07,-13.22],[0.09,-13.12],[0.00,-12.79],[0.30,-12.80],[0.16,-12.64],[0.23,-12.52],[0.12,-12.43],[0.47,-12.75],[0.61,-12.62],[0.70,-12.62],[-0.25,-12.52],[1.77,-12.45],[1.50,-12.35],[0.69,-11.99],[2.65,-13.35],[0.83,-11.45],[1.49,-11.57]
];

const panelLeft = [143.5, 594.5, 1045.5];
const panelW = 451, plotTop = 10, plotH = 556.5;
const serif = "'Liberation Serif', 'Times New Roman', serif";

const svg = d3.select("#chart");
const fmt = d => (d < 0 ? "\u2212" + Math.abs(d) : String(d));

const xMinor = d3.range(-1, 5.26, 0.25).filter(v => Math.abs(v - Math.round(v)) > 1e-6);
const yMinor = d3.range(-21.25, -4.1, 1.25).filter(v => Math.abs(v / 5 - Math.round(v / 5)) > 1e-6);

function styleAxis(sel, fs) {
  sel.select(".domain").remove();
  sel.selectAll(".tick line").attr("stroke", "#000").attr("stroke-width", 3);
  sel.selectAll(".tick text").attr("font-family", serif).attr("font-weight", "bold")
     .attr("font-size", fs).attr("fill", "#000");
}

function drawPanel(i, layers, withYLabels) {
  const g = svg.append("g").attr("transform", `translate(${panelLeft[i]},${plotTop})`);
  const x = d3.scaleLinear().domain(xDomain).range([0, panelW]);
  const y = d3.scaleLinear().domain(yDomain).range([0, plotH]);

  if (i === 0) {
    // shaded selection boxes, semi-transparent so the overlap reads darker
    const boxes = shadeX0.map((v, k) => ({x0: v, x1: shadeX1[k], y0: shadeY0[k], y1: shadeY1[k]}));
    g.selectAll("rect.shade").data(boxes).join("rect").attr("class", "shade")
      .attr("x", d => x(d.x0)).attr("width", d => x(d.x1) - x(d.x0))
      .attr("y", d => y(d.y0)).attr("height", d => y(d.y1) - y(d.y0))
      .attr("fill", "#000").attr("fill-opacity", 0.215);
  }

  layers.forEach(L => {
    g.append("g").selectAll("circle").data(L.data).join("circle")
      .attr("cx", d => x(d[0])).attr("cy", d => y(d[1]))
      .attr("r", L.r).attr("fill", L.color);
  });

  if (i === 0) {
    // reddening vector
    const tx = x(avTail[0]), ty = y(avTail[1]), hx = x(avHead[0]), hy = y(avHead[1]);
    const ang = Math.atan2(ty - hy, tx - hx);
    const len = 11, spread = 0.45;
    g.append("line").attr("x1", tx).attr("y1", ty).attr("x2", hx).attr("y2", hy)
      .attr("stroke", "#000").attr("stroke-width", 2.6);
    g.append("path")
      .attr("d", `M${hx + len * Math.cos(ang + spread)},${hy + len * Math.sin(ang + spread)}L${hx},${hy}L${hx + len * Math.cos(ang - spread)},${hy + len * Math.sin(ang - spread)}`)
      .attr("fill", "none").attr("stroke", "#000").attr("stroke-width", 2.6);
    const t = g.append("text").attr("x", x(3.46)).attr("y", y(-19.94))
      .attr("font-family", serif).attr("font-weight", "bold").attr("font-size", 16);
    t.append("tspan").text("A");
    t.append("tspan").attr("font-size", 11).attr("dy", 4).text("V");
    t.append("tspan").attr("dy", -4).text("=1");
  }

  // axes: inward major and minor ticks on all four sides
  const bot = g.append("g").attr("transform", `translate(0,${plotH})`)
    .call(d3.axisBottom(x).tickValues(xTicks).tickSize(-16).tickPadding(11).tickFormat(fmt));
  styleAxis(bot, 25);
  styleAxis(g.append("g").attr("transform", `translate(0,${plotH})`)
    .call(d3.axisBottom(x).tickValues(xMinor).tickSize(-8).tickFormat("")), 25);
  styleAxis(g.append("g").call(d3.axisTop(x).tickValues(xTicks).tickSize(-16).tickFormat("")), 25);
  styleAxis(g.append("g").call(d3.axisTop(x).tickValues(xMinor).tickSize(-8).tickFormat("")), 25);
  const left = g.append("g")
    .call(d3.axisLeft(y).tickValues(yTicks).tickSize(-13).tickPadding(8).tickFormat(withYLabels ? fmt : ""));
  styleAxis(left, 27);
  styleAxis(g.append("g").call(d3.axisLeft(y).tickValues(yMinor).tickSize(-6.5).tickFormat("")), 25);
  styleAxis(g.append("g").attr("transform", `translate(${panelW},0)`)
    .call(d3.axisRight(y).tickValues(yTicks).tickSize(-13).tickFormat("")), 25);
  styleAxis(g.append("g").attr("transform", `translate(${panelW},0)`)
    .call(d3.axisRight(y).tickValues(yMinor).tickSize(-6.5).tickFormat("")), 25);

  g.append("rect").attr("x", 0).attr("y", 0).attr("width", panelW).attr("height", plotH)
    .attr("fill", "none").attr("stroke", "#000").attr("stroke-width", 3.5);

  // x-axis title
  const tt = g.append("text").attr("x", [46, 36, 40][i]).attr("y", 640 - plotTop)
    .attr("font-family", serif).attr("font-weight", "bold").attr("fill", "#000");
  tt.append("tspan").attr("font-size", 43).text("M");
  tt.append("tspan").attr("font-size", 30).attr("dy", 7).text("F435W");
  tt.append("tspan").attr("font-size", 43).attr("dy", -7).text(" \u2013 M");
  tt.append("tspan").attr("font-size", 30).attr("dy", 7).text("F814W");
  return {g, x, y};
}

drawPanel(0, [
  {data: p1Black, r: 2.05, color: "#000"},
  {data: p1Orange, r: 2.0, color: "#f2a150"},
  {data: p1Blue, r: 3.7, color: "#1414ee"},
  {data: p1Red, r: 3.5, color: "#ee1111"},
  {data: p1Green, r: 3.7, color: "#22e022"}
], true);
drawPanel(1, [{data: p2Black, r: 2.05, color: "#000"}], false);
const p3 = drawPanel(2, [
  {data: p3Black, r: 1.95, color: "#000"},
  {data: p3Ulirg, r: 3.6, color: "#c236c8"}
], false);

// reference note in panel 3
const note = p3.g.append("text").attr("font-family", serif).attr("font-weight", "bold")
  .attr("font-size", 32).attr("fill", "#cc0a6a");
note.append("tspan").attr("x", 30).attr("y", 474 - plotTop).text("ULIRGs Surace et al. 1998,");
note.append("tspan").attr("x", 30).attr("y", 513 - plotTop).text("ApJ, 492, 116");

// y-axis title
const yt = svg.append("text").attr("transform", "translate(50,348) rotate(-90)")
  .attr("font-family", serif).attr("font-weight", "bold").attr("fill", "#000");
yt.append("tspan").attr("font-size", 50).text("M");
yt.append("tspan").attr("font-size", 33).attr("dy", 12).text("F814W");
</script>
</body></html>
